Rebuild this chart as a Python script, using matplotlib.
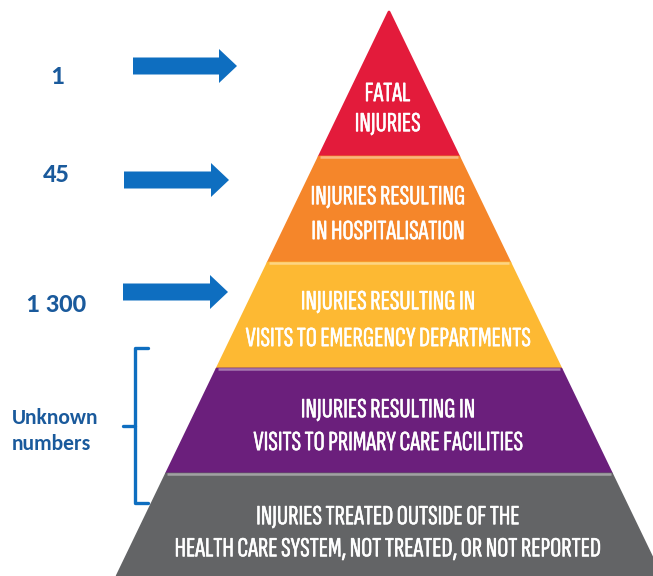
import matplotlib
matplotlib.use("Agg")
import matplotlib.pyplot as plt
import matplotlib.patheffects as pe
from matplotlib.patches import Polygon, FancyArrow
from matplotlib.textpath import TextPath
from matplotlib.font_manager import FontProperties

# ---- data ----
layer_lines = [
    ["FATAL", "INJURIES"],
    ["INJURIES RESULTING", "IN HOSPITALISATION"],
    ["INJURIES RESULTING IN", "VISITS TO EMERGENCY DEPARTMENTS"],
    ["INJURIES RESULTING IN", "VISITS TO PRIMARY CARE FACILITIES"],
    ["INJURIES TREATED OUTSIDE OF THE", "HEALTH CARE SYSTEM, NOT TREATED, OR NOT REPORTED"],
]
layer_colors = ["#E31B3B", "#F5862A", "#FDB933", "#6B1F7C", "#636466"]
count_labels = ["1", "45", "1 300"]
unknown_lines = ["Unknown", "numbers"]

# ---- layout (pixel coordinates) ----
W, H, DPI = 653, 576, 100
apex_x, apex_y = 389, 12
slope = 0.482                     # half-width per pixel of height
bounds = [apex_y, 157, 263, 369, 474, 576]
line_y = [(92, 124), (197, 230), (302, 337), (410, 441), (517, 549)]
text_cx = 388

fig = plt.figure(figsize=(W / DPI, H / DPI), dpi=DPI)
ax = fig.add_axes([0, 0, 1, 1])
ax.set_xlim(0, W)
ax.set_ylim(H, 0)
ax.axis("off")

K = DPI / 72.0

def ink(s, fp, size):
    ext = TextPath((0, 0), s, size=size, prop=fp).get_extents()
    return ext.x0 * K, ext.x1 * K, ext.y0 * K, ext.y1 * K

def fit_size(s, fp, target_w):
    x0, x1, _, _ = ink(s, fp, 10)
    return 10 * target_w / (x1 - x0)

def place(s, fp, size, cx=None, left=None, cy=0, color="white", effects=None):
    x0, x1, y0, y1 = ink(s, fp, size)
    if left is not None:
        xpos = left - x0
    else:
        xpos = cx - (x0 + x1) / 2
    ybase = cy + (y0 + y1) / 2
    t = ax.text(xpos, ybase, s, color=color, ha="left", va="baseline",
                fontproperties=fp, fontsize=size)
    if effects:
        t.set_path_effects(effects)

def half(y):
    return (y - apex_y) * slope

pyr_fp = FontProperties(family=["Sofia Sans Extra Condensed", "Saira ExtraCondensed",
                                "Barlow Condensed", "DejaVu Sans"], weight=600)
pyr_size = fit_size(layer_lines[-1][1], pyr_fp, 424)
bolden = [pe.withStroke(linewidth=0.35, foreground="white")]

for i, (lines, col) in enumerate(zip(layer_lines, layer_colors)):
    y0, y1 = bounds[i], bounds[i + 1]
    pts = [(apex_x - half(y0), y0), (apex_x + half(y0), y0),
           (apex_x + half(y1), y1), (apex_x - half(y1), y1)]
    ax.add_patch(Polygon(pts, closed=True, facecolor=col, edgecolor=col,
                         linewidth=2.0, joinstyle="round"))
    for s, yc in zip(lines, line_y[i]):
        place(s, pyr_fp, pyr_size, cx=text_cx, cy=yc, effects=bolden)

# separators between layers
for y in bounds[1:-1]:
    ax.plot([apex_x - half(y) + 1, apex_x + half(y) - 1], [y, y],
            color="white", alpha=0.4, lw=1.8, solid_capstyle="butt")

# arrows
arrow_blue = "#0E6EC0"
arrow_rows = [(133, 237, 66), (124, 229, 180), (123, 228, 292)]
for x0, x1, y in arrow_rows:
    ax.add_patch(FancyArrow(x0, y, x1 - x0, 0, width=17, head_width=34,
                            head_length=18, length_includes_head=True,
                            color=arrow_blue, linewidth=0))

text_blue = "#1A5A9C"
lab_fp = FontProperties(family=["Carlito", "Open Sans", "DejaVu Sans"], weight="bold")
count_size = fit_size("1 300", lab_fp, 58)
count_cx = [57, 56, 57]
count_cy = [75, 173, 303]
for s, cx, cy in zip(count_labels, count_cx, count_cy):
    place(s, lab_fp, count_size, cx=cx, cy=cy, color=text_blue)

unk_size = fit_size(unknown_lines[0], lab_fp, 85)
for s, cy in zip(unknown_lines, [416, 442]):
    place(s, lab_fp, unk_size, left=13, cy=cy, color=text_blue)

# bracket
bx, by0, by1, bmid = 135, 348, 503, 426
ax.plot([148, bx, bx, 148], [by0, by0, by1, by1], color=arrow_blue, lw=2.4,
        solid_joinstyle="round", solid_capstyle="round")
ax.plot([bx, 123], [bmid, bmid], color=arrow_blue, lw=2.4, solid_capstyle="round")

fig.savefig("out.png", dpi=DPI)
